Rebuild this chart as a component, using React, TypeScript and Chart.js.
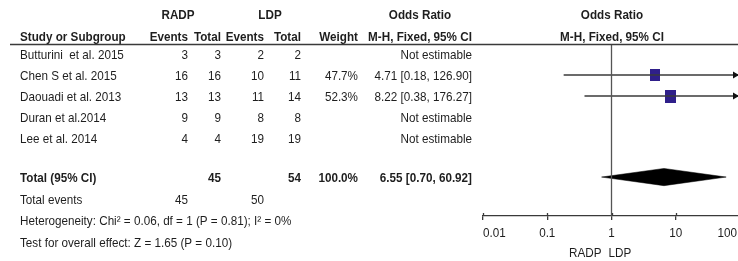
import React, { useEffect, useRef } from 'react';
import { Chart, registerables } from 'chart.js';

Chart.register(...registerables);

// ---------------- data ----------------
const studies = ['Butturini  et al. 2015', 'Chen S et al. 2015', 'Daouadi et al. 2013', 'Duran et al.2014', 'Lee et al. 2014'];
const radpEvents = [3, 16, 13, 9, 4];
const radpTotal = [3, 16, 13, 9, 4];
const ldpEvents = [2, 10, 11, 8, 19];
const ldpTotal = [2, 11, 14, 8, 19];
const weightLabels = ['', '47.7%', '52.3%', '', ''];
const weightValues = [0, 47.7, 52.3, 0, 0];
const orLabels = ['Not estimable', '4.71 [0.18, 126.90]', '8.22 [0.38, 176.27]', 'Not estimable', 'Not estimable'];
const orEstimates: (number | null)[] = [null, 4.71, 8.22, null, null];
const orLower: (number | null)[] = [null, 0.18, 0.38, null, null];
const orUpper: (number | null)[] = [null, 126.9, 176.27, null, null];

const totalLabel = 'Total (95% CI)';
const totalRadp = '45';
const totalLdp = '54';
const totalWeight = '100.0%';
const totalOrLabel = '6.55 [0.70, 60.92]';
const totalEstimate = 6.55;
const totalLower = 0.7;
const totalUpper = 60.92;
const totalEventsLabel = 'Total events';
const totalEventsRadp = '45';
const totalEventsLdp = '50';
const heterogeneityText = 'Heterogeneity: Chi\u00B2 = 0.06, df = 1 (P = 0.81); I\u00B2 = 0%';
const overallEffectText = 'Test for overall effect: Z = 1.65 (P = 0.10)';

const tickValues = [0.01, 0.1, 1, 10, 100];
const tickLabels = ['0.01', '0.1', '1', '10', '100'];
const favoursLeft = 'RADP';
const favoursRight = 'LDP';
const groupHeaders = ['RADP', 'LDP'];
const columnHeaders = ['Study or Subgroup', 'Events', 'Total', 'Events', 'Total', 'Weight'];
const orHeader = ['Odds Ratio', 'M-H, Fixed, 95% CI'];

// ---------------- layout ----------------
const FONT = '"Liberation Sans", Arial, Helvetica, sans-serif';
const FONT_SIZE = 13.5;
const SX = 0.865;
const BASE_SHIFT = 4.8;
const TEXT = '#1e1e1e';
const SQUARE = '#2f1f8a';
const LINE = '#3a3a3a';
const CANVAS_W = 760;
const CANVAS_H = 261;
const AREA_LEFT = 483;
const AREA_RIGHT = 740;
const AREA_TOP = 45;
const AREA_BOTTOM = 216;
const ROW_PX = 21;
const Y_MIN = 0.5714;
const Y_MAX = Y_MIN + (AREA_BOTTOM - AREA_TOP) / ROW_PX;
const X_MIN = tickValues[0];
const X_MAX = tickValues[tickValues.length - 1];

const studyRows = [1, 2, 3, 4, 5];
const TOTAL_ROW = 6.86;
const EVENTS_ROW = 7.9;
const HET_ROW = 8.9;
const TEST_ROW = 9.95;
const HEAD1_ROW = -0.905;
const HEAD2_ROW = 0.143;
const FAVOURS_ROW = 10.43;
const TICK_LABEL_ROW = 9.48;
const DIAMOND_HALF = 0.41;

const COL_STUDY = 20;
const COL_RE = 188;
const COL_RT = 221;
const COL_LE = 264;
const COL_LT = 301;
const COL_W = 358;
const COL_OR = 472;
const HEAD_RADP = 178;
const HEAD_LDP = 270;
const HEAD_OR = 420;
const HEAD_PLOT = 612;
const VISIBLE_W = 738;

function rectStyle(w: number): HTMLCanvasElement {
  const s = Math.sqrt(w);
  const c = document.createElement('canvas');
  c.width = Math.round(s * 1.48);
  c.height = Math.round(s * 1.8);
  const g = c.getContext('2d')!;
  g.fillStyle = SQUARE;
  g.fillRect(0, 0, c.width, c.height);
  return c;
}

const forestText = {
  id: 'forestText',
  afterDraw(chart: any) {
    const ctx: CanvasRenderingContext2D = chart.ctx;
    const ys = chart.scales.y;
    const xs = chart.scales.x;
    const py = (r: number) => ys.getPixelForValue(r);
    ctx.save();
    ctx.fillStyle = TEXT;
    ctx.textBaseline = 'alphabetic';
    const put = (t: string, x: number, r: number, align: CanvasTextAlign, bold = false) => {
      ctx.save();
      ctx.font = `${bold ? 'bold ' : ''}${FONT_SIZE}px ${FONT}`;
      ctx.textAlign = align;
      ctx.scale(SX, 1);
      ctx.fillText(t, x / SX, py(r) + BASE_SHIFT);
      ctx.restore();
    };
    // headers
    put(groupHeaders[0], HEAD_RADP, HEAD1_ROW, 'center', true);
    put(groupHeaders[1], HEAD_LDP, HEAD1_ROW, 'center', true);
    put(orHeader[0], HEAD_OR, HEAD1_ROW, 'center', true);
    put(orHeader[0], HEAD_PLOT, HEAD1_ROW, 'center', true);
    put(columnHeaders[0], COL_STUDY, HEAD2_ROW, 'left', true);
    put(columnHeaders[1], COL_RE, HEAD2_ROW, 'right', true);
    put(columnHeaders[2], COL_RT, HEAD2_ROW, 'right', true);
    put(columnHeaders[3], COL_LE, HEAD2_ROW, 'right', true);
    put(columnHeaders[4], COL_LT, HEAD2_ROW, 'right', true);
    put(columnHeaders[5], COL_W, HEAD2_ROW, 'right', true);
    put(orHeader[1], HEAD_OR, HEAD2_ROW, 'center', true);
    put(orHeader[1], HEAD_PLOT, HEAD2_ROW, 'center', true);
    // header rule
    ctx.strokeStyle = LINE;
    ctx.lineWidth = 1.5;
    ctx.beginPath();
    ctx.moveTo(10, AREA_TOP - 0.5);
    ctx.lineTo(CANVAS_W, AREA_TOP - 0.5);
    ctx.stroke();
    // study rows
    studies.forEach((s, i) => {
      const r = studyRows[i];
      put(s, COL_STUDY, r, 'left');
      put(String(radpEvents[i]), COL_RE, r, 'right');
      put(String(radpTotal[i]), COL_RT, r, 'right');
      put(String(ldpEvents[i]), COL_LE, r, 'right');
      put(String(ldpTotal[i]), COL_LT, r, 'right');
      if (weightLabels[i]) put(weightLabels[i], COL_W, r, 'right');
      put(orLabels[i], COL_OR, r, 'right');
    });
    // totals
    put(totalLabel, COL_STUDY, TOTAL_ROW, 'left', true);
    put(totalRadp, COL_RT, TOTAL_ROW, 'right', true);
    put(totalLdp, COL_LT, TOTAL_ROW, 'right', true);
    put(totalWeight, COL_W, TOTAL_ROW, 'right', true);
    put(totalOrLabel, COL_OR, TOTAL_ROW, 'right', true);
    put(totalEventsLabel, COL_STUDY, EVENTS_ROW, 'left');
    put(totalEventsRadp, COL_RE, EVENTS_ROW, 'right');
    put(totalEventsLdp, COL_LE, EVENTS_ROW, 'right');
    put(heterogeneityText, COL_STUDY, HET_ROW, 'left');
    put(overallEffectText, COL_STUDY, TEST_ROW, 'left');
    // tick labels (clamped to axis extent like RevMan)
    tickValues.forEach((v, i) => {
      const x = xs.getPixelForValue(v);
      if (i === 0) put(tickLabels[i], x, TICK_LABEL_ROW, 'left');
      else if (i === tickValues.length - 1) put(tickLabels[i], Math.min(x, VISIBLE_W - 1), TICK_LABEL_ROW, 'right');
      else put(tickLabels[i], x, TICK_LABEL_ROW, 'center');
    });
    // favours
    const one = xs.getPixelForValue(1);
    put(favoursLeft, one - 10, FAVOURS_ROW, 'right');
    put(favoursRight, one - 3, FAVOURS_ROW, 'left');
    // upward tick marks
    ctx.strokeStyle = LINE;
    ctx.lineWidth = 1.3;
    tickValues.forEach((v) => {
      const x = Math.round(xs.getPixelForValue(v)) + 0.5;
      ctx.beginPath();
      ctx.moveTo(x, AREA_BOTTOM - 3);
      ctx.lineTo(x, AREA_BOTTOM);
      ctx.stroke();
    });
    // arrows for clipped CIs
    ctx.fillStyle = '#111';
    studies.forEach((_, i) => {
      const hi = orUpper[i];
      const lo = orLower[i];
      const y = py(studyRows[i]);
      if (hi != null && hi > X_MAX) {
        const x = xs.getPixelForValue(X_MAX) - 1;
        ctx.beginPath();
        ctx.moveTo(x - 6, y - 3.5);
        ctx.lineTo(x, y);
        ctx.lineTo(x - 6, y + 3.5);
        ctx.closePath();
        ctx.fill();
      }
      if (lo != null && lo < X_MIN) {
        const x = xs.getPixelForValue(X_MIN);
        ctx.beginPath();
        ctx.moveTo(x + 6, y - 3.5);
        ctx.lineTo(x, y);
        ctx.lineTo(x + 6, y + 3.5);
        ctx.closePath();
        ctx.fill();
      }
    });
    ctx.restore();
  },
};

export default function App() {
  const ref = useRef<HTMLCanvasElement>(null);
  useEffect(() => {
    const canvas = ref.current!;
    const datasets: any[] = [];
    datasets.push({
      type: 'line',
      data: [{ x: 1, y: Y_MIN }, { x: 1, y: Y_MAX }],
      borderColor: '#555',
      borderWidth: 1.3,
      pointRadius: 0,
      fill: false,
    });
    studies.forEach((_, i) => {
      const lo = orLower[i];
      const hi = orUpper[i];
      if (lo == null || hi == null) return;
      datasets.push({
        type: 'line',
        data: [
          { x: Math.max(lo, X_MIN), y: studyRows[i] },
          { x: Math.min(hi, X_MAX), y: studyRows[i] },
        ],
        borderColor: LINE,
        borderWidth: 1.3,
        pointRadius: 0,
        fill: false,
      });
    });
    const squareIdx = studies.map((_, i) => i).filter((i) => orEstimates[i] != null);
    datasets.push({
      type: 'scatter',
      data: squareIdx.map((i) => ({ x: orEstimates[i], y: studyRows[i] })),
      pointStyle: squareIdx.map((i) => rectStyle(weightValues[i])),
      backgroundColor: SQUARE,
      borderWidth: 0,
    });
    [-DIAMOND_HALF, DIAMOND_HALF].forEach((h) => {
      datasets.push({
        type: 'line',
        data: [
          { x: totalLower, y: TOTAL_ROW },
          { x: totalEstimate, y: TOTAL_ROW + h },
          { x: totalUpper, y: TOTAL_ROW },
        ],
        borderColor: '#000',
        borderWidth: 0.5,
        backgroundColor: '#000',
        pointRadius: 0,
        tension: 0,
        fill: { value: TOTAL_ROW },
      });
    });

    const chart = new Chart(canvas, {
      type: 'scatter',
      data: { datasets },
      plugins: [forestText],
      options: {
        responsive: false,
        animation: false,
        devicePixelRatio: 1,
        events: [],
        layout: { padding: { left: AREA_LEFT, right: CANVAS_W - AREA_RIGHT, top: AREA_TOP, bottom: 0 } },
        plugins: { legend: { display: false }, tooltip: { enabled: false } },
        scales: {
          x: {
            type: 'logarithmic',
            min: X_MIN,
            max: X_MAX,
            afterBuildTicks: (scale: any) => {
              scale.ticks = tickValues.map((v) => ({ value: v }));
            },
            afterFit: (scale: any) => {
              scale.height = CANVAS_H - AREA_BOTTOM;
            },
            border: { display: true, color: LINE, width: 1.3 },
            grid: { display: true, drawOnChartArea: false, drawTicks: true, tickLength: 4, color: LINE, lineWidth: 1.3 },
            ticks: { display: false, autoSkip: false },
          },
          y: {
            type: 'linear',
            display: false,
            reverse: true,
            min: Y_MIN,
            max: Y_MAX,
          },
        },
      } as any,
    });
    return () => chart.destroy();
  }, []);
  return (
    <div style={{ position: 'absolute', left: 0, top: 0, width: VISIBLE_W, height: 261, overflow: 'hidden', background: '#fff' }}>
      <canvas ref={ref} width={CANVAS_W} height={CANVAS_H} style={{ width: CANVAS_W, height: CANVAS_H, display: 'block' }} />
    </div>
  );
}
